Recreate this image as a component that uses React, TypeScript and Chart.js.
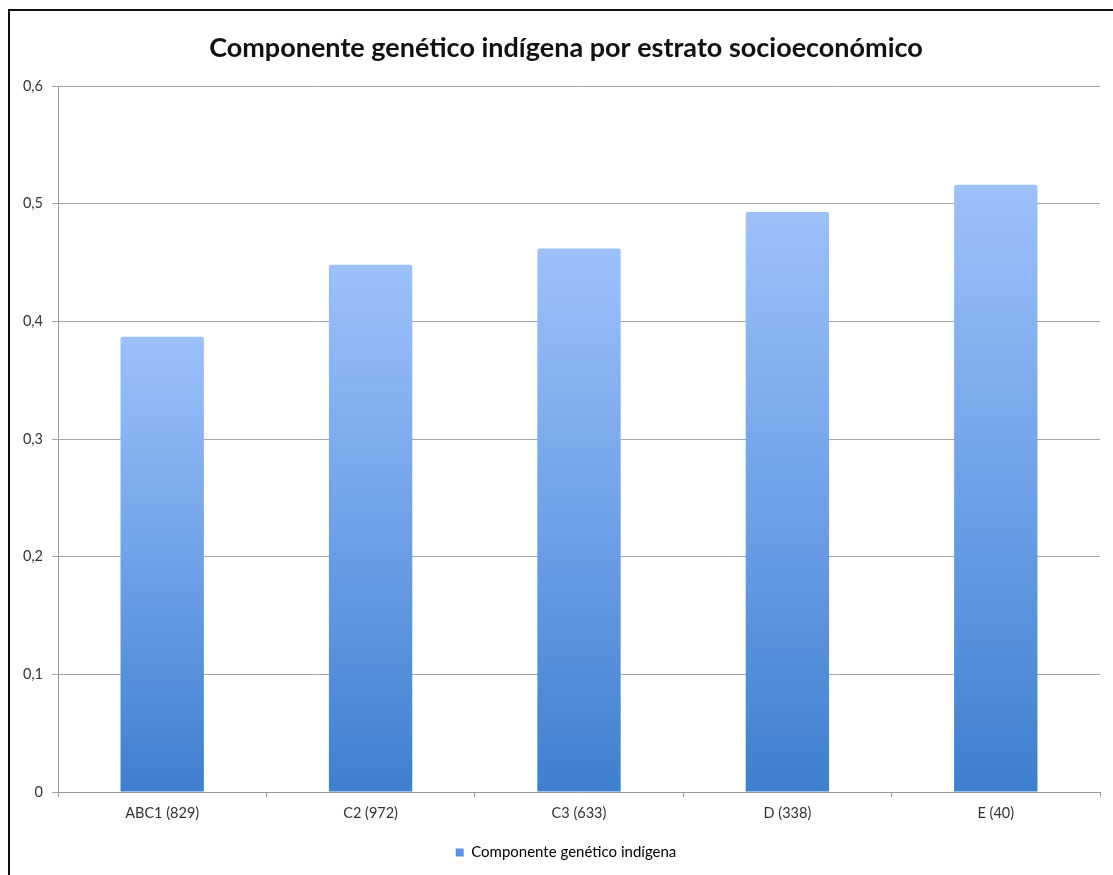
import React, { useEffect, useRef } from "react";
import { Chart, registerables } from "chart.js";

Chart.register(...registerables);

const categories = ["ABC1 (829)", "C2 (972)", "C3 (633)", "D (338)", "E (40)"];
const values = [0.387, 0.448, 0.462, 0.493, 0.516];
const seriesLabel = "Componente genético indígena";
const titleText = "Componente genético indígena por estrato socioeconómico";
const yTicks = [0, 0.1, 0.2, 0.3, 0.4, 0.5, 0.6];

const FONT = "Lato, 'Open Sans', sans-serif";

// Shifts the title and legend boxes so that they are centred on the same
// point as in the reference picture.
const shiftBoxes = {
  id: "shiftBoxes",
  afterLayout(chart: any) {
    if (chart.titleBlock) chart.titleBlock.left += 32;
    if (chart.legend) chart.legend.left += 32;
  },
};

export default function App() {
  const ref = useRef<HTMLCanvasElement | null>(null);

  useEffect(() => {
    const canvas = ref.current;
    if (!canvas) return;
    const chart = new Chart(canvas, {
      type: "bar",
      data: {
        labels: categories,
        datasets: [
          {
            label: seriesLabel,
            data: values,
            backgroundColor: (ctx: any) => {
              const c = ctx.chart;
              const area = c.chartArea;
              if (!area) return "#5B8FDF";
              if (ctx.type !== "data") return "#5B8FDF";
              const ys = c.scales.y;
              const v = ctx.raw as number;
              const top = ys.getPixelForValue(v);
              const bottom = ys.getPixelForValue(0);
              const g = c.ctx.createLinearGradient(0, top, 0, bottom);
              g.addColorStop(0, "#9CC1FB");
              g.addColorStop(0.5, "#6EA1E8");
              g.addColorStop(1, "#3E7FCF");
              return g;
            },
            borderWidth: 0,
            borderRadius: { topLeft: 2, topRight: 2 },
            borderSkipped: "bottom",
            categoryPercentage: 0.8,
            barPercentage: 0.5,
          },
        ],
      },
      plugins: [shiftBoxes],
      options: {
        animation: false,
        responsive: true,
        maintainAspectRatio: false,
        layout: { padding: { left: 0, right: 13, top: 0, bottom: 5 } },
        plugins: {
          title: {
            display: true,
            text: titleText,
            color: "#111",
            font: { family: FONT, size: 27, weight: "bold" },
            padding: { top: 32, bottom: 21.6 },
          },
          legend: {
            display: true,
            position: "bottom",
            labels: {
              color: "#333",
              font: { family: FONT, size: 15 },
              boxWidth: 8,
              boxHeight: 8,
              padding: 10,
              generateLabels: () => [
                {
                  text: seriesLabel,
                  fillStyle: "#5B8FDF",
                  strokeStyle: "#5B8FDF",
                  lineWidth: 0,
                  datasetIndex: 0,
                  hidden: false,
                } as any,
              ],
            },
          },
          tooltip: { enabled: false },
        },
        scales: {
          x: {
            grid: {
              display: true,
              drawOnChartArea: false,
              drawTicks: true,
              tickLength: 5,
              color: "#9A9A9A",
              offset: true,
            },
            border: { display: true, color: "#9A9A9A", width: 1 },
            ticks: {
              color: "#333",
              font: { family: FONT, size: 14.5 },
              padding: 8,
              maxRotation: 0,
            },
            afterFit: (s: any) => {
              s.height = 43;
            },
          },
          y: {
            min: 0,
            max: 0.6,
            afterBuildTicks: (s: any) => {
              s.ticks = yTicks.map((v) => ({ value: v }));
            },
            grid: {
              color: "#A5A5A5",
              drawTicks: true,
              tickLength: 6,
              lineWidth: 1,
            },
            border: { display: true, color: "#9A9A9A", width: 1 },
            ticks: {
              color: "#333",
              font: { family: FONT, size: 14.5 },
              padding: 9,
              callback: (v: any) => (v === 0 ? "0" : Number(v).toFixed(1).replace(".", ",")),
            },
            afterFit: (s: any) => {
              s.width = 58;
            },
          },
        },
      },
    });
    return () => chart.destroy();
  }, []);

  return (
    <div style={{ position: "fixed", left: 0, top: 0, width: 1113, height: 875, background: "#fff" }}>
      <canvas ref={ref} style={{ position: "absolute", left: 0, top: 0 }} />
      <div
        style={{
          position: "absolute",
          left: 8,
          top: 9,
          width: 1113,
          height: 880,
          borderTop: "2px solid #111",
          borderLeft: "2px solid #111",
          boxSizing: "border-box",
          pointerEvents: "none",
        }}
      />
    </div>
  );
}
